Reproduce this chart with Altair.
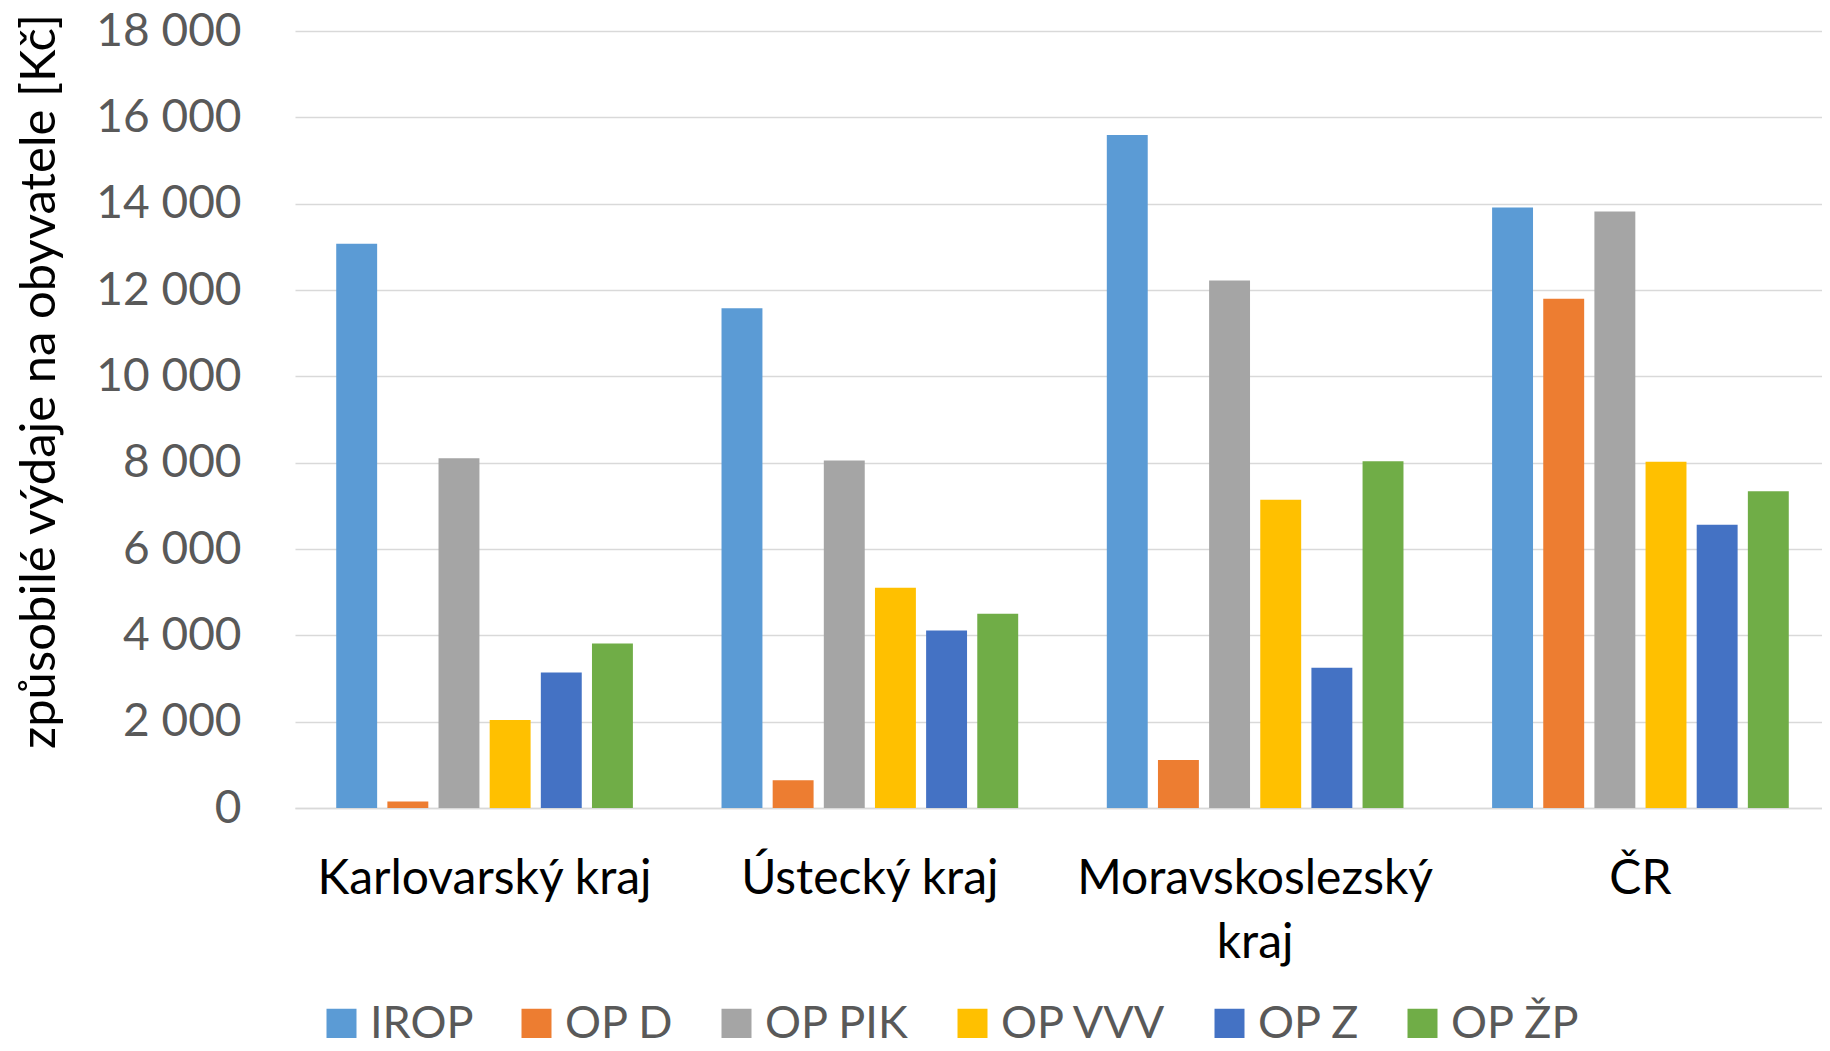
import altair as alt
import pandas as pd

regions = ["Karlovarský kraj", "Ústecký kraj", "Moravskoslezský kraj", "ČR"]
programs = ["IROP", "OP D", "OP PIK", "OP VVV", "OP Z", "OP ŽP"]
colors = ["#5B9BD5", "#ED7D31", "#A5A5A5", "#FFC000", "#4472C4", "#70AD47"]

irop = [13070, 11580, 15590, 13910]
op_d = [150, 640, 1110, 11800]
op_pik = [8100, 8050, 12220, 13820]
op_vvv = [2040, 5100, 7140, 8020]
op_z = [3140, 4110, 3250, 6560]
op_zp = [3810, 4500, 8030, 7340]

y_ticks = [0, 2000, 4000, 6000, 8000, 10000, 12000, 14000, 16000, 18000]
y_title = "způsobilé výdaje na obyvatele [Kč]"

series = [irop, op_d, op_pik, op_vvv, op_z, op_zp]
rows = []
for prog, vals in zip(programs, series):
    for reg, v in zip(regions, vals):
        rows.append({"region": reg, "program": prog, "value": v})
df = pd.DataFrame(rows)

FONT = "Lato"

chart = alt.Chart(df).mark_bar().encode(
    x=alt.X(
        "region:N",
        sort=regions,
        scale=alt.Scale(paddingInner=0.23, paddingOuter=0.107, range=[0, 1535]),
        axis=alt.Axis(
            title=None,
            labelAngle=0,
            labelFont=FONT,
            labelFontSize=48,
            labelColor="#000000",
            labelPadding=47,
            labelLimit=600,
            labelLineHeight=64,
            labelBaseline="top",
            labelExpr="datum.label == 'Moravskoslezský kraj' ? ['Moravskoslezský', 'kraj'] : datum.label",
            ticks=False,
            domain=True,
            domainColor="#D9D9D9",
            domainWidth=1.5,
            grid=False,
        ),
    ),
    xOffset=alt.XOffset(
        "program:N",
        sort=programs,
        scale=alt.Scale(paddingInner=0.2, paddingOuter=0),
    ),
    y=alt.Y(
        "value:Q",
        scale=alt.Scale(domain=[0, 18000], nice=False),
        axis=alt.Axis(
            values=y_ticks,
            title=y_title,
            titleFont=FONT,
            titleFontSize=49,
            titleFontWeight="normal",
            titleColor="#000000",
            titleAngle=270,
            titleAlign="center",
            titleBaseline="middle",
            titleX=-256,
            titleY=350,
            labelFont=FONT,
            labelFontSize=46,
            labelColor="#595959",
            labelPadding=54,
            labelExpr="replace(format(datum.value, ','), ',', ' ')",
            ticks=False,
            domain=False,
            grid=True,
            gridColor="#D9D9D9",
            gridWidth=1.5,
        ),
    ),
    color=alt.Color(
        "program:N",
        sort=programs,
        scale=alt.Scale(domain=programs, range=colors),
        legend=alt.Legend(
            title=None,
            orient="none",
            legendX=24,
            legendY=970,
            direction="horizontal",
            columns=6,
            symbolType="square",
            symbolSize=900,
            symbolStrokeWidth=0,
            symbolOpacity=1,
            labelFont=FONT,
            labelFontSize=45,
            labelColor="#595959",
            labelOffset=6,
            labelLimit=400,
            columnPadding=40,
            padding=0,
        ),
    ),
).properties(
    width=1527,
    height=777,
    autosize=alt.AutoSizeParams(type="none"),
    padding={"left": 287, "top": 23, "right": 0, "bottom": 230},
).configure_view(stroke=None)

chart.save("out.html", embed_options={"renderer": "svg", "actions": False})
